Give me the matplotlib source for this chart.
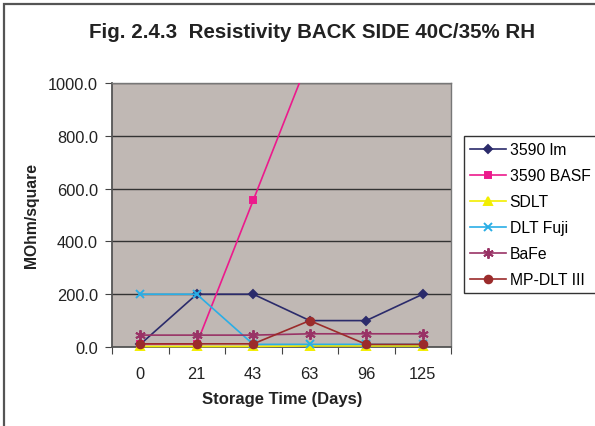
import matplotlib
matplotlib.use("Agg")
import matplotlib.pyplot as plt
from matplotlib.patches import Rectangle

plt.rcParams['font.family'] = ['Liberation Sans', 'DejaVu Sans']

days = ["0", "21", "43", "63", "96", "125"]
s_3590_im = [10, 200, 200, 100, 100, 200]
s_3590_basf = [12, 12, 556, 1100, 1500, 2000]
s_sdlt = [2, 2, 2, 4, 4, 4]
s_dlt_fuji = [200, 200, 10, 10, 10, 10]
s_bafe = [45, 45, 45, 50, 50, 50]
s_mp_dlt3 = [12, 12, 12, 100, 10, 10]

series = [
    ("3590 lm", s_3590_im, "#2B2B6B", "D", 4.5, True),
    ("3590 BASF", s_3590_basf, "#EC1A8C", "s", 5, True),
    ("SDLT", s_sdlt, "#F2EE00", "^", 6, False),
    ("DLT Fuji", s_dlt_fuji, "#2AAEE6", "x", 6, False),
    ("BaFe", s_bafe, "#993366", (6, 2, 0), 7.5, False),
    ("MP-DLT III", s_mp_dlt3, "#9B2B2B", "o", 5.5, False),
]

W, H = 595, 427
fig = plt.figure(figsize=(W / 100, H / 100), dpi=100)

# chart-area frame
fig.patches.append(Rectangle((4 / W, -0.1), 1.2, (H - 5) / H + 0.1, transform=fig.transFigure,
                             fill=False, edgecolor="#555555", linewidth=1.6))

left, right, top, bottom = 112, 451, 84, 348
ax = fig.add_axes([left / W, (H - bottom) / H, (right - left) / W, (bottom - top) / H])
ax.set_facecolor("#C0B8B4")

x = list(range(len(days)))
for name, vals, col, mk, ms, clip in series:
    ax.plot(x, vals, color=col, linewidth=1.2, marker=mk, markersize=ms,
            markerfacecolor=col, markeredgecolor=col, markeredgewidth=1.4,
            label=name, clip_on=clip, zorder=3)

ax.set_xlim(-0.5, len(days) - 0.5)
ax.set_ylim(0, 1000)
ax.set_yticks(range(0, 1001, 200))
ax.set_yticklabels([f"{v:.1f}" for v in range(0, 1001, 200)], fontsize=11.8, color="#222222")
ax.yaxis.grid(True, color="#333333", linewidth=1.0)
ax.set_axisbelow(True)

ax.set_xticks([i - 0.5 for i in range(len(days) + 1)])
ax.set_xticklabels([])
ax.set_xticks(x, minor=True)
ax.set_xticklabels(days, minor=True, fontsize=11.8, color="#222222")
ax.tick_params(axis="x", which="minor", length=0, pad=14)
ax.tick_params(axis="x", which="major", length=5, color="#444444", direction="out")
ax.tick_params(axis="y", length=5, color="#444444", direction="out", pad=5)

for side in ["left", "bottom"]:
    ax.spines[side].set_color("#555555")
    ax.spines[side].set_linewidth(1.3)
for side in ["top", "right"]:
    ax.spines[side].set_color("#777777")
    ax.spines[side].set_linewidth(1.0)

fig.text(312 / W, 1 - 33 / H, "Fig. 2.4.3  Resistivity BACK SIDE 40C/35% RH",
         ha="center", va="center", fontsize=14.8, fontweight="bold", color="#222222")
fig.text(32 / W, 1 - 216 / H, "MOhm/square", rotation=90, ha="center", va="center",
         fontsize=11.3, fontweight="bold", color="#222222")
fig.text(282 / W, 1 - 400 / H, "Storage Time (Days)", ha="center", va="center",
         fontsize=12, fontweight="bold", color="#222222")

leg = fig.legend(loc="upper left", bbox_to_anchor=(464 / W, 1 - 137 / H), fontsize=11.3,
                 frameon=True, fancybox=False, edgecolor="#333333", framealpha=1,
                 handlelength=2.3, borderpad=0.4, labelspacing=0.7, handletextpad=0.2,
                 borderaxespad=0)
leg.get_frame().set_linewidth(1.0)

fig.savefig("out.png", dpi=100)
